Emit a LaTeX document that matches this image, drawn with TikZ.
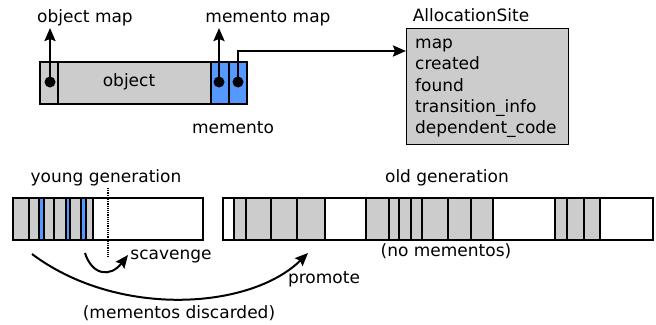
\documentclass[tikz,border=0pt]{standalone}
\usepackage{fontspec}
\setmainfont{DejaVu Sans}
\usetikzlibrary{arrows.meta,positioning}
\definecolor{cellgray}{HTML}{CCCCCC}
\definecolor{mementoblue}{HTML}{5599FF}
\tikzset{
  cellbox/.style={draw=black, line width=1.3pt},
  ptr/.style={draw=black, line width=2.3pt, -{Stealth[length=13pt,width=11pt,inset=2pt]}},
  curvedarrow/.style={draw=black, line width=2pt, -{Stealth[length=13pt,width=11pt,inset=2pt]}},
  ptrdot/.style={circle, fill=black, inner sep=0pt, minimum size=11pt},
  lbl/.style={inner sep=0pt, font=\fontsize{17}{21}\selectfont},
}
\begin{document}
\begin{tikzpicture}[x=1pt, y=-1pt]
\useasboundingbox (0,0) rectangle (656,324);

% --- heap object with two memento words ---
\filldraw[cellbox, fill=cellgray] (40,62) rectangle (58,104);
\filldraw[cellbox, fill=cellgray] (58,62) rectangle (211,104);
\filldraw[cellbox, fill=mementoblue] (211,62) rectangle (229,104);
\filldraw[cellbox, fill=mementoblue] (229,62) rectangle (247,104);
\node[lbl] (obj) at (129,82) {object};

\node[ptrdot] (pobj) at (50,82) {};
\node[ptrdot] (pm1) at (219,82) {};
\node[ptrdot] (pm2) at (238,82) {};

\node[lbl] (objmap) at (85,18) {object map};
\node[lbl] (memmap) at (268,18) {memento map};
\node[lbl] (memlbl) at (233,128) {memento};

\coordinate (objmaptip) at (50,28);
\coordinate (memmaptip) at (219,28);
\draw[ptr] (pobj.center) -- (objmaptip);
\draw[ptr] (pm1.center) -- (memmaptip);

% --- AllocationSite record ---
\node[lbl] (sitetitle) at (471,15) {AllocationSite};
\node[draw=black, line width=1.3pt, fill=cellgray, anchor=north west,
      minimum width=162pt, minimum height=116pt, inner sep=0pt] (site) at (406,28) {};
\node[lbl, anchor=base west] (f1) at (415,48) {map};
\node[lbl, anchor=base west] (f2) at (415,69) {created};
\node[lbl, anchor=base west] (f3) at (415,91) {found};
\node[lbl, anchor=base west] (f4) at (415,112) {transition\_info};
\node[lbl, anchor=base west] (f5) at (415,133) {dependent\_code};

\coordinate (sitein) at (site.west |- 0,51);
\draw[ptr] (pm2.center) |- (sitein);

% --- young generation ---
\node[lbl] (younglbl) at (106,178) {young generation};
\filldraw[cellbox, fill=white] (13,198) rectangle (203,240);
\foreach \a/\b/\c in {13/29/cellgray, 29/39/cellgray, 39/44/mementoblue,
    44/54/cellgray, 54/66/cellgray, 66/70/mementoblue, 70/81/cellgray,
    81/86/mementoblue, 86/93/cellgray}
  \filldraw[cellbox, fill=\c] (\a,198) rectangle (\b,240);
\draw[cellbox] (13,198) rectangle (203,240);
\draw[line width=1.2pt, densely dotted] (108,188) -- (108,257);

% --- old generation ---
\node[lbl] (oldlbl) at (447,178) {old generation};
\filldraw[cellbox, fill=white] (223,198) rectangle (653,240);
\foreach \a/\b in {234/246, 246/271, 271/297, 297/325,
    366/389, 389/399, 399/411, 411/422, 422/448, 448/471, 471/493,
    555/567, 567/584, 584/600}
  \filldraw[cellbox, fill=cellgray] (\a,198) rectangle (\b,240);
\draw[cellbox] (223,198) rectangle (653,240);
\node[lbl] (nomem) at (446,251) {(no mementos)};

% --- scavenge and promote ---
\coordinate (scavfrom) at (85,253);
\coordinate (scavto) at (128,255);
\draw[curvedarrow] (scavfrom) .. controls (92,275) and (110,278) .. (scavto);
\node[lbl] (scavlbl) at (171,257) {scavenge};

\coordinate (promfrom) at (32,254);
\coordinate (promto) at (308,253);
\draw[curvedarrow] (promfrom) .. controls (117,318) and (250,310) .. (promto);
\node[lbl] (promlbl) at (324,279) {promote};
\node[lbl] (disclbl) at (179,313) {(mementos discarded)};
\end{tikzpicture}
\end{document}
